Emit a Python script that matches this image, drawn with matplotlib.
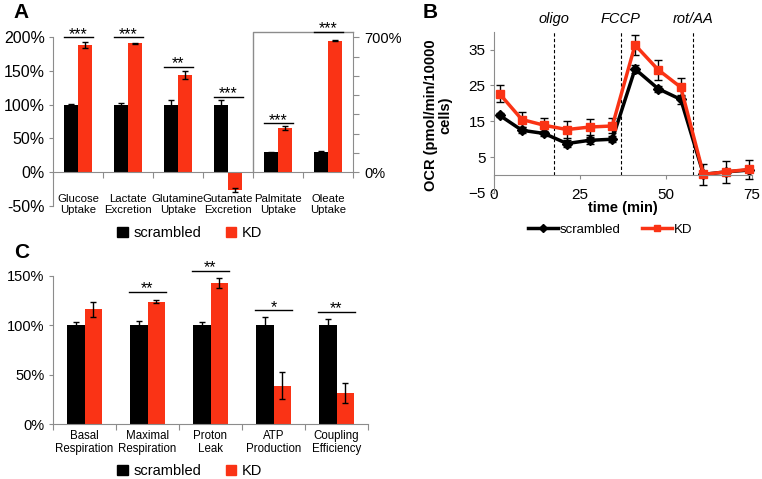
import matplotlib.pyplot as plt
import numpy as np
from matplotlib.patches import Patch
from matplotlib.lines import Line2D

plt.rcParams['font.family'] = ['Liberation Sans', 'DejaVu Sans']

W, H = 762, 479
RED = '#FA3315'
GRAY = '#8c8c8c'

# ---- panel A data (left axis groups) ----
a_labels = ['Glucose\nUptake', 'Lactate\nExcretion', 'Glutamine\nUptake',
            'Gutamate\nExcretion', 'Palmitate\nUptake', 'Oleate\nUptake']
a_scr = [100, 100, 99, 100]
a_scr_err = [0.8, 2.5, 8, 6.5]
a_kd = [189, 191, 144, -26]
a_kd_err = [4.5, 1, 6.5, 3]
a_sig = ['***', '***', '**', '***']
a_sig_y = [200, 200, 156, 111]
# panel A, right axis groups (Palmitate, Oleate)
a2_scr = [102, 103]
a2_scr_err = [2, 6]
a2_kd = [230, 683]
a2_kd_err = [11, 3]
a2_sig = ['***', '***']
a2_sig_y = [253, 728]

# ---- panel B data ----
t_min = [1.6, 8.1, 14.6, 21.2, 27.8, 34.4, 41.0, 47.7, 54.3, 60.9, 67.5, 74.1]
ocr_scr = [16.7, 12.5, 11.6, 8.8, 9.7, 10.0, 29.6, 24.1, 21.1, 0.2, 0.9, 1.4]
ocr_scr_err = [0.6, 0.8, 0.8, 1.0, 0.9, 0.9, 1.0, 0.8, 1.2, 0.5, 0.5, 0.5]
ocr_kd = [22.7, 15.5, 13.9, 12.7, 13.4, 13.7, 36.3, 29.4, 24.5, 0.2, 0.9, 1.6]
ocr_kd_err = [2.3, 2.1, 2.0, 2.3, 2.2, 2.1, 2.8, 2.8, 2.5, 3.0, 3.0, 2.6]
inject_t = [17.5, 36.8, 57.8]
inject_labels = ['oligo', 'FCCP', 'rot/AA']

# ---- panel C data ----
c_labels = ['Basal\nRespiration', 'Maximal\nRespiration', 'Proton\nLeak',
            'ATP\nProduction', 'Coupling\nEfficiency']
c_scr = [100, 100, 100, 100, 100]
c_scr_err = [3.5, 4.5, 3, 8.5, 6]
c_kd = [116, 123.7, 143, 38.8, 31.7]
c_kd_err = [7.5, 1.7, 5, 13.5, 10]
c_sig = ['', '**', '**', '*', '**']
c_sig_y = [0, 134, 155, 115, 113.6]

fig = plt.figure(figsize=(W / 100, H / 100), dpi=100)


def px_axes(l, t, r, b):
    return fig.add_axes([l / W, 1 - b / H, (r - l) / W, (b - t) / H])


ekw = dict(ecolor='black', capsize=2.5, elinewidth=1, capthick=1)
bw = 0.28


def style_bar_axes(ax, n):
    for s in ['top', 'right']:
        ax.spines[s].set_visible(False)
    for s in ['left', 'bottom']:
        ax.spines[s].set_color(GRAY)
    ax.spines['bottom'].set_position(('data', 0))
    ax.set_xlim(-0.5, n - 0.5)
    ax.set_xticks(np.arange(-0.5, n, 1))
    ax.set_xticklabels([])
    ax.tick_params(axis='x', length=4, color=GRAY)
    ax.tick_params(axis='y', length=3, color=GRAY, pad=3)


def sig(ax, x, y, txt):
    ax.plot([x - 0.29, x + 0.29], [y, y], color='black', lw=1, clip_on=False)
    ax.annotate(txt, (x, y), xytext=(0, -1), textcoords='offset points',
                ha='center', va='baseline', fontsize=11.5, annotation_clip=False)


# ================= A =================
axA = px_axes(53, 37.3, 353, 205.7)
style_bar_axes(axA, 6)
axA.set_ylim(-50, 200)
axA.set_yticks([-50, 0, 50, 100, 150, 200])
axA.set_yticklabels(['-50%', '0%', '50%', '100%', '150%', '200%'], fontsize=11.5)
xa = np.arange(4)
axA.bar(xa - bw / 2, a_scr, bw, color='black', yerr=a_scr_err, error_kw=ekw)
axA.bar(xa + bw / 2, a_kd, bw, color=RED, yerr=a_kd_err, error_kw=ekw)
for i in range(4):
    sig(axA, xa[i], a_sig_y[i], a_sig[i])
for i, lab in enumerate(a_labels):
    axA.text(i, -33, lab, ha='center', va='top', fontsize=8.2, linespacing=1.15)

axA2 = axA.twinx()
axA2.set_ylim(-175, 700)
for s in ['top', 'left', 'bottom']:
    axA2.spines[s].set_visible(False)
axA2.spines['right'].set_color(GRAY)
axA2.spines['right'].set_bounds(0, 728)
axA2.set_yticks(np.arange(0, 701, 100))
axA2.set_yticklabels(['0%', '', '', '', '', '', '', '700%'], fontsize=10.5)
axA2.tick_params(axis='y', length=4, color=GRAY, pad=4)
xb = np.array([4, 5])
axA2.bar(xb - bw / 2, a2_scr, bw, color='black', yerr=a2_scr_err, error_kw=ekw)
axA2.bar(xb + bw / 2, a2_kd, bw, color=RED, yerr=a2_kd_err, error_kw=ekw)
axA2.plot([3.5, 3.5, 5.5], [0, 728, 728], color=GRAY, lw=1, clip_on=False)
for i in range(2):
    sig(axA2, xb[i], a2_sig_y[i], a2_sig[i])

fig.legend([Patch(color='black'), Patch(color=RED)], ['scrambled', 'KD'],
           ncol=2, frameon=False, loc='center', bbox_to_anchor=(190 / W, 1 - 233 / H),
           fontsize=10.5, handlelength=0.7, handleheight=0.7, handletextpad=0.4,
           columnspacing=1.7, borderpad=0)

# ================= B =================
axB = px_axes(494, 31.7, 752, 193)
axB.set_xlim(0, 75)
axB.set_ylim(-5, 40)
for s in ['top', 'right']:
    axB.spines[s].set_visible(False)
for s in ['left', 'bottom']:
    axB.spines[s].set_color(GRAY)
axB.spines['bottom'].set_position(('data', 0))
axB.set_xticks([0, 25, 50, 75])
axB.set_yticks([-5, 5, 15, 25, 35])
axB.tick_params(axis='x', length=3, color=GRAY, pad=6.5, labelsize=11)
axB.tick_params(axis='y', length=3, color=GRAY, pad=3, labelsize=11)
for xv, lab in zip(inject_t, inject_labels):
    axB.axvline(xv, ymin=5 / 45, ymax=1, color='black', lw=0.8, ls=(0, (3, 2)))
    axB.text(xv, 41.5, lab, ha='center', va='bottom', fontsize=10.5, style='italic')
axB.errorbar(t_min, ocr_scr, yerr=ocr_scr_err, color='black', lw=2.5, marker='D',
             ms=5, capsize=3, elinewidth=1, capthick=1, ecolor='black', clip_on=False)
axB.errorbar(t_min, ocr_kd, yerr=ocr_kd_err, color=RED, lw=2.5, marker='s',
             ms=6, capsize=3, elinewidth=1, capthick=1, ecolor='black', clip_on=False)
fig.text(623 / W, 1 - 208 / H, 'time (min)', ha='center', va='center',
         fontsize=10.5, fontweight='bold')
fig.text(438 / W, 1 - 115 / H, 'OCR (pmol/min/10000\ncells)', ha='center', va='center',
         rotation=90, fontsize=10.5, fontweight='bold', multialignment='center',
         linespacing=1.0)
fig.legend([Line2D([], [], color='black', lw=2.5, marker='D', ms=4),
            Line2D([], [], color=RED, lw=2.5, marker='s', ms=5)],
           ['scrambled', 'KD'], ncol=2, frameon=False, loc='center',
           bbox_to_anchor=(610 / W, 1 - 230 / H), fontsize=9.5, handlelength=2.3,
           handletextpad=0.1, columnspacing=1.6, borderpad=0)

# ================= C =================
axC = px_axes(53, 275.7, 368, 424)
style_bar_axes(axC, 5)
axC.set_ylim(0, 150)
axC.set_yticks([0, 50, 100, 150])
axC.set_yticklabels(['0%', '50%', '100%', '150%'], fontsize=10.5)
xc = np.arange(5)
axC.bar(xc - bw / 2, c_scr, bw, color='black', yerr=c_scr_err, error_kw=ekw)
axC.bar(xc + bw / 2, c_kd, bw, color=RED, yerr=c_kd_err, error_kw=ekw)
for i in range(5):
    if c_sig[i]:
        sig(axC, xc[i], c_sig_y[i], c_sig[i])
for i, lab in enumerate(c_labels):
    axC.text(i, -6, lab, ha='center', va='top', fontsize=8.3, linespacing=1.15)

fig.legend([Patch(color='black'), Patch(color=RED)], ['scrambled', 'KD'],
           ncol=2, frameon=False, loc='center', bbox_to_anchor=(190 / W, 1 - 471 / H),
           fontsize=10.5, handlelength=0.7, handleheight=0.7, handletextpad=0.4,
           columnspacing=1.7, borderpad=0)

# panel letters
for lab, x, y in [('A', 13, 18), ('B', 423, 18), ('C', 14, 258)]:
    fig.text(x / W, 1 - y / H, lab, fontsize=15, fontweight='bold', va='baseline')

fig.savefig('out.png', dpi=100)
